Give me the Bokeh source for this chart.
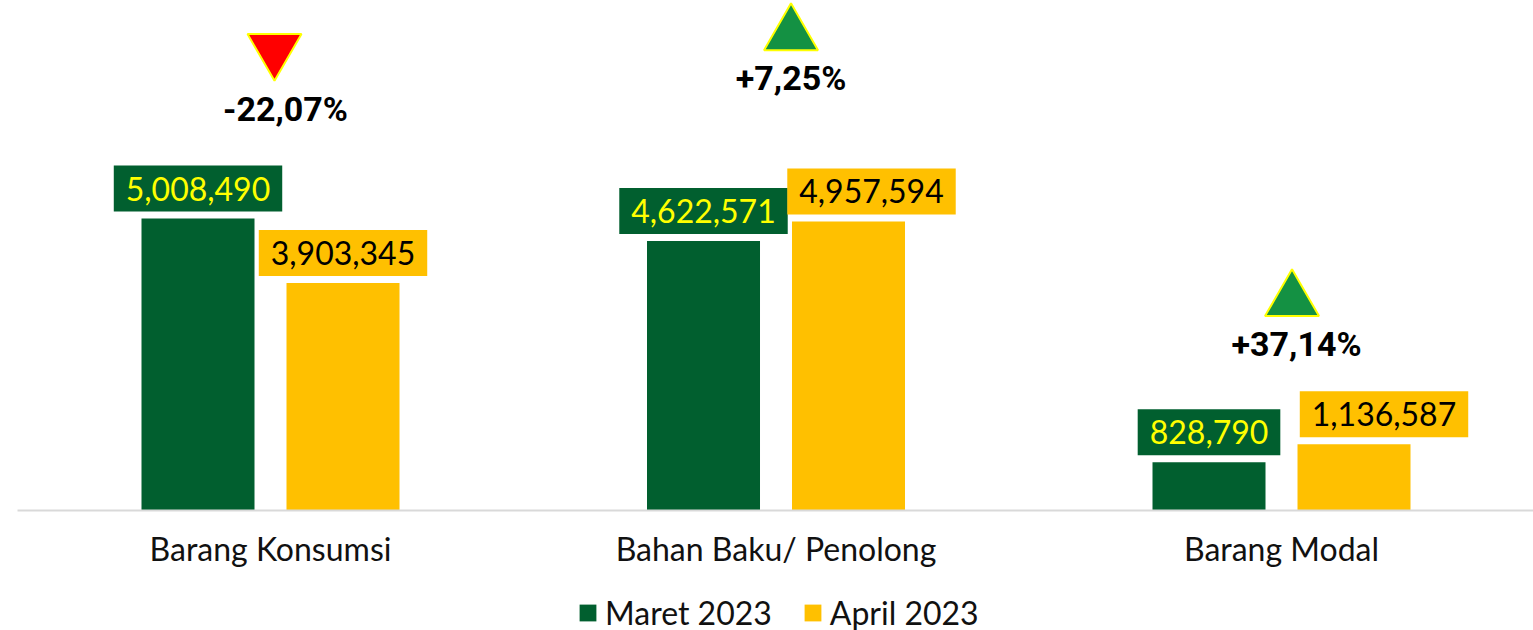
from bokeh.plotting import figure
from bokeh.layouts import column
from bokeh.models import Range1d, FixedTicker, Legend, LegendItem, ColumnDataSource
from bokeh.core.properties import value
from bokeh.embed import file_html
from bokeh.resources import INLINE
import numpy as np

# ---------------- data ----------------
categories = ["Barang Konsumsi", "Bahan Baku/ Penolong", "Barang Modal"]
series_names = ["Maret 2023", "April 2023"]
maret_2023 = [5008490, 4622571, 828790]
april_2023 = [3903345, 4957594, 1136587]
change_labels = ["-22,07%", "+7,25%", "+37,14%"]
change_up = [False, True, True]

# ---------------- layout constants ----------------
W = 1533
H_MAIN = 580
H_LEG = 50
GREEN = "#015F2F"
GOLD = "#FFC000"
YELLOW = "#FFFF00"
Y_MAX = 8.748e6
PX_PER_UNIT_X = 505.5
BAR_W = 113 / PX_PER_UNIT_X
OFF = 72.5 / PX_PER_UNIT_X
# annotation anchors (data units) for percentage notes and triangles
note_y = [6.895e6, 7.427e6, 2.856e6]
tri_y = [7.907e6, 8.164e6, 3.602e6]
tri_shift_px = [4, 15, 10.5]
april_label_shift_px = [0, 23, 30]

idx = np.arange(len(categories))

p = figure(width=W, height=H_MAIN, output_backend="svg", toolbar_location=None,
           x_range=Range1d(-0.5005, 2.4985), y_range=Range1d(0, Y_MAX),
           y_axis_location=None, min_border_left=17, min_border_right=0,
           min_border_top=0, min_border_bottom=H_MAIN - 510)
p.outline_line_color = None
p.xgrid.visible = False
p.ygrid.visible = False
p.background_fill_color = "white"

src_m = ColumnDataSource(dict(x=idx - OFF, top=maret_2023,
                              lab=[f"{v:,}" for v in maret_2023],
                              dx=[0] * len(categories)))
src_a = ColumnDataSource(dict(x=idx + OFF, top=april_2023,
                              lab=[f"{v:,}" for v in april_2023],
                              dx=april_label_shift_px))

p.vbar(x="x", top="top", width=BAR_W, source=src_m, fill_color=GREEN, line_color=None)
p.vbar(x="x", top="top", width=BAR_W, source=src_a, fill_color=GOLD, line_color=None)

common = dict(text_font=value("Lato"), text_font_size="32px", text_align="center",
              text_baseline="bottom", y_offset=-7, x_offset="dx",
              padding=dict(left=12, right=12, top=11, bottom=11))
p.text(x="x", y="top", text="lab", source=src_m, text_color=YELLOW,
       background_fill_color=GREEN, **common)
p.text(x="x", y="top", text="lab", source=src_a, text_color="black",
       background_fill_color=GOLD, **common)

# percentage notes
p.text(x=idx, y=note_y, text=change_labels, text_font=value("Roboto"),
       text_font_style="bold", text_font_size="34px", text_align="center",
       text_baseline="middle", x_offset=15, text_color="black")

tri_x = idx + np.array(tri_shift_px) / PX_PER_UNIT_X
up = np.array(change_up)
p.scatter(x=tri_x[up], y=np.array(tri_y)[up], marker="triangle", size=54,
          fill_color="#149143", line_color=YELLOW, line_width=2)
p.scatter(x=tri_x[~up], y=np.array(tri_y)[~up], marker="inverted_triangle", size=54,
          fill_color="#FF0000", line_color=YELLOW, line_width=2)

# axis
ax = p.xaxis[0]
ax.ticker = FixedTicker(ticks=list(idx))
ax.major_label_overrides = {int(i): c for i, c in zip(idx, categories)}
ax.major_tick_line_color = None
ax.minor_tick_line_color = None
ax.axis_line_color = "#D9D9D9"
ax.axis_line_width = 2
ax.major_label_text_font = "Lato"
ax.major_label_text_font_size = "32px"
ax.major_label_text_color = "#111111"
ax.major_label_standoff = 12

# ---------------- legend strip ----------------
pl = figure(width=W, height=H_LEG, output_backend="svg", toolbar_location=None,
            x_range=Range1d(0, 1), y_range=Range1d(0, 1),
            x_axis_location=None, y_axis_location=None,
            min_border_left=0, min_border_right=0, min_border_top=0, min_border_bottom=0)
pl.outline_line_color = None
pl.xgrid.visible = False
pl.ygrid.visible = False
# legend proxies: same styling as the bars, placed outside the visible range
lm = pl.vbar(x=[5], top=[1], width=0.1, fill_color=GREEN, line_color=None)
la = pl.vbar(x=[5], top=[1], width=0.1, fill_color=GOLD, line_color=None)
legend = Legend(items=[LegendItem(label=series_names[0], renderers=[lm]),
                       LegendItem(label=series_names[1], renderers=[la])],
                orientation="horizontal", location=(560, -2),
                label_text_font="Lato", label_text_font_size="32px",
                label_text_color="#111111", glyph_width=21, glyph_height=21,
                label_standoff=7, spacing=30, padding=0, margin=0,
                border_line_color=None, background_fill_alpha=0)
pl.add_layout(legend, "center")

open("out.html", "w").write(file_html(column(p, pl, spacing=0), INLINE))
